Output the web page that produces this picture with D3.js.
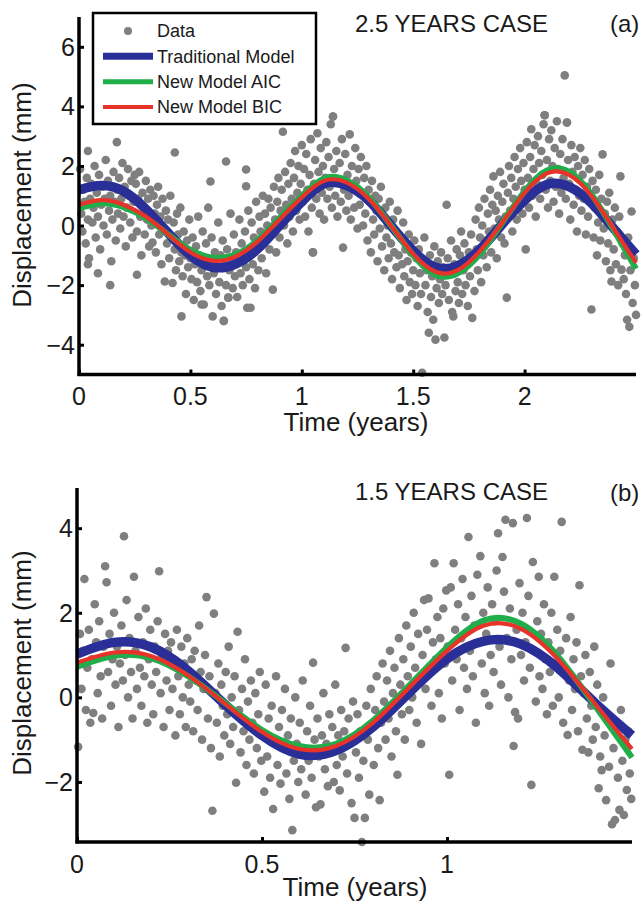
<!DOCTYPE html>
<html><head><meta charset="utf-8">
<script src="https://cdn.jsdelivr.net/npm/d3@7"></script>
<style>body{margin:0;background:#fff}svg{display:block}text{font-family:"Liberation Sans",Arial,Helvetica,sans-serif;fill:#1a1a1a}</style>
</head><body><svg id="c" width="642" height="907"></svg>
<script>
// ---------- DATA ----------
const seriesNames = ["Data", "Traditional Model", "New Model AIC", "New Model BIC"];
const seriesColors = ["#7f7f7f", "#2a2f98", "#1fae4a", "#e8322a"];

// Panel (a): 2.5 years case — model curves sampled every 0.1 year
const tA = [0,0.1,0.2,0.3,0.4,0.5,0.6,0.7,0.8,0.9,1.0,1.1,1.2,1.3,1.4,1.5,1.6,1.7,1.8,1.9,2.0,2.1,2.2,2.3,2.4,2.5];
const tradA = [1.2,1.34,1.15,0.55,-0.25,-1.0,-1.4,-1.3,-0.8,0.0,0.8,1.4,1.35,0.85,0.0,-0.85,-1.4,-1.35,-0.8,0.05,0.85,1.38,1.3,0.75,-0.1,-0.97];
const aicA = [0.58,0.75,0.62,0.25,-0.3,-0.82,-1.08,-0.98,-0.5,0.25,1.0,1.58,1.52,0.95,0.0,-1.0,-1.65,-1.6,-0.95,0.1,1.15,1.85,1.8,1.05,-0.15,-1.45];
const bicA = [0.7,0.85,0.7,0.3,-0.3,-0.9,-1.18,-1.05,-0.55,0.2,0.95,1.5,1.45,0.9,0.0,-0.95,-1.55,-1.5,-0.85,0.1,1.1,1.75,1.7,1.0,-0.1,-1.25];

// Panel (b): 1.5 years case — model curves sampled every 0.1 year
const tB = [0,0.1,0.2,0.3,0.4,0.5,0.6,0.7,0.8,0.9,1.0,1.1,1.2,1.3,1.4,1.5];
const tradB = [1.02,1.3,1.19,0.63,-0.17,-0.9,-1.34,-1.26,-0.7,0.13,0.91,1.33,1.26,0.69,-0.13,-0.9];
const aicB = [0.72,0.98,0.93,0.5,-0.13,-0.77,-1.15,-1.1,-0.55,0.3,1.18,1.82,1.74,0.97,-0.2,-1.42];
const bicB = [0.82,1.06,0.98,0.52,-0.15,-0.82,-1.22,-1.15,-0.6,0.25,1.1,1.7,1.62,0.9,-0.15,-1.22];

// Observations [time (years), displacement (mm)]
const obsA = [
[0.005,1.9],[0.01,0.4],[0.015,-0.2],[0.02,1.2],[0.025,0.8],[0.03,-0.6],[0.035,1.6],[0.04,0.2],[0.045,-1.1],[0.05,0.9],[0.055,1.4],[0.06,0.1],[0.065,0.6],[0.07,2.0],[0.075,-0.4],[0.08,1.1],[0.085,0.3],[0.09,1.7],[0.095,-0.8],[0.1,0.7],[0.105,1.3],[0.11,0.0],[0.115,0.9],[0.12,2.2],[0.125,-0.3],[0.13,1.5],[0.135,0.5],[0.14,1.0],[0.145,-1.2],[0.15,0.2],[0.155,1.8],[0.16,0.8],[0.165,-0.5],[0.17,1.2],[0.175,0.4],[0.18,1.6],[0.185,-0.1],[0.19,0.9],[0.195,2.1],[0.2,0.3],[0.205,1.3],[0.21,-0.7],[0.215,0.6],[0.22,1.9],[0.225,1.0],[0.23,0.1],[0.235,1.5],[0.24,-0.4],[0.245,0.8],[0.25,1.7],
[0.04,2.5],[0.17,2.8],[0.43,2.45],[0.66,2.15],[0.59,1.48],[0.75,1.88],[0.75,1.32],[0.26,-1.65],[0.14,-2.0],[0.085,-1.6],[0.04,-1.3],[0.46,-3.05],[0.65,-3.2],[0.55,-2.65],[0.77,-2.76],[0.67,-2.42],[1.05,-0.9],[1.14,3.66],[2.09,3.7],[2.19,3.46],
[0.255,1.4],[0.26,-0.2],[0.265,0.9],[0.27,1.8],[0.275,0.3],[0.28,-1.0],[0.285,1.1],[0.29,0.6],[0.295,-0.3],[0.3,1.5],[0.305,0.2],[0.31,0.9],[0.315,-0.7],[0.32,1.2],[0.325,0.0],[0.33,-0.57],[0.335,1.0],[0.34,0.4],[0.345,-0.9],[0.35,0.7],[0.355,1.3],[0.36,-0.3],[0.365,0.3],[0.37,-1.3],[0.375,0.9],[0.38,-0.1],[0.385,-1.88],[0.39,0.5],[0.395,-0.6],[0.4,0.2],[0.405,-1.1],[0.41,1.0],[0.415,-0.4],[0.42,-1.93],[0.425,0.1],[0.43,-0.8],[0.435,-1.5],[0.44,0.4],[0.445,-0.3],[0.45,-1.2],[0.455,0.6],[0.46,-0.9],[0.465,-1.7],[0.47,-0.2],[0.475,-1.0],[0.48,-2.3],[0.485,-0.5],[0.49,-1.4],[0.495,0.2],[0.5,-1.1],
[0.505,-1.8],[0.51,-0.4],[0.515,-2.5],[0.52,-1.3],[0.525,-0.7],[0.53,-1.9],[0.535,0.3],[0.54,-1.0],[0.545,-2.2],[0.55,-1.5],[0.555,-0.2],[0.56,-2.65],[0.565,-1.1],[0.57,-0.6],[0.575,-1.7],[0.58,0.6],[0.585,-2.0],[0.59,-1.2],[0.595,-0.4],[0.6,-3.05],[0.605,-1.6],[0.61,-0.9],[0.615,-2.3],[0.62,-1.4],[0.625,0.1],[0.63,-1.9],[0.635,-1.0],[0.64,-2.7],[0.645,-0.5],[0.65,-3.2],[0.655,-1.3],[0.66,-2.0],[0.665,-0.8],[0.67,-2.42],[0.675,-1.5],[0.68,0.4],[0.685,-1.1],[0.69,-2.1],[0.695,-0.3],[0.7,-1.7],[0.705,-0.9],[0.71,-2.4],[0.715,-1.2],[0.72,0.2],[0.725,-1.6],[0.73,-0.6],[0.735,-2.0],[0.74,-1.0],[0.745,-0.2],[0.75,-1.4],
[0.755,-2.76],[0.76,0.5],[0.765,-1.8],[0.77,-0.9],[0.775,0.1],[0.78,-1.3],[0.785,-0.4],[0.79,-2.1],[0.795,0.8],[0.8,-0.7],[0.805,-1.5],[0.81,0.3],[0.815,-0.2],[0.82,-1.1],[0.825,1.0],[0.83,-0.5],[0.835,0.4],[0.84,-1.6],[0.845,0.0],[0.85,0.9],[0.855,-0.8],[0.86,0.6],[0.865,-0.3],[0.87,-2.15],[0.875,1.3],[0.88,0.2],[0.885,-0.9],[0.89,0.8],[0.895,1.6],[0.9,-0.4],[0.905,0.5],[0.91,1.2],[0.915,3.15],[0.92,0.0],[0.925,1.8],[0.93,0.7],[0.935,-0.6],[0.94,1.4],[0.945,0.3],[0.95,2.1],[0.955,0.9],[0.96,-0.2],[0.965,1.6],[0.97,2.5],[0.975,0.5],[0.98,1.1],[0.985,2.0],[0.99,0.2],[0.995,1.4],[1.0,2.7],
[1.005,0.8],[1.01,1.9],[1.015,0.3],[1.02,2.4],[1.025,1.2],[1.03,-0.2],[1.035,1.7],[1.04,2.9],[1.045,0.6],[1.05,-0.9],[1.055,1.4],[1.06,2.2],[1.065,0.9],[1.07,3.1],[1.075,1.8],[1.08,0.4],[1.085,2.6],[1.09,1.1],[1.095,2.0],[1.1,0.2],[1.105,1.6],[1.11,2.8],[1.115,0.9],[1.12,2.3],[1.125,1.3],[1.13,3.4],[1.135,0.6],[1.14,3.66],[1.145,1.9],[1.15,1.0],[1.155,2.5],[1.16,0.3],[1.165,1.5],[1.17,2.1],[1.175,0.8],[1.18,2.9],[1.185,-0.74],[1.19,1.2],[1.195,2.4],[1.2,0.5],[1.205,1.7],[1.21,1.0],[1.215,3.06],[1.22,0.2],[1.225,2.0],[1.23,1.3],[1.235,0.6],[1.24,2.6],[1.245,1.5],[1.25,-0.1],
[1.255,1.9],[1.26,0.7],[1.265,2.3],[1.27,1.1],[1.275,0.0],[1.28,1.6],[1.285,0.4],[1.29,2.0],[1.295,-0.5],[1.3,1.2],[1.305,0.8],[1.31,-0.9],[1.315,1.5],[1.32,0.2],[1.325,-0.3],[1.33,1.0],[1.335,0.5],[1.34,-1.2],[1.345,0.9],[1.35,-0.1],[1.355,1.3],[1.36,-0.7],[1.365,0.3],[1.37,-1.5],[1.375,0.6],[1.38,-0.4],[1.385,0.0],[1.39,-1.1],[1.395,0.8],[1.4,-0.6],[1.405,-1.8],[1.41,0.2],[1.415,-0.9],[1.42,-0.2],[1.425,-1.4],[1.43,0.5],[1.435,-1.0],[1.44,-2.1],[1.445,-0.4],[1.45,-1.3],[1.455,0.1],[1.46,-1.7],[1.465,-0.8],[1.47,-2.5],[1.475,-1.2],[1.48,-0.3],[1.485,-1.9],[1.49,-0.9],[1.495,-2.3],[1.5,-1.5],
[1.505,-0.5],[1.51,-2.0],[1.515,-1.1],[1.52,-2.7],[1.525,-0.8],[1.53,-1.6],[1.535,-2.3],[1.54,-4.94],[1.545,-1.3],[1.55,-0.4],[1.555,-2.0],[1.56,-1.5],[1.565,-2.9],[1.57,-3.6],[1.575,-1.0],[1.58,-2.4],[1.585,-1.7],[1.59,-3.16],[1.595,-0.7],[1.6,-3.83],[1.605,-2.1],[1.61,-1.2],[1.615,-2.6],[1.62,-1.8],[1.625,-0.9],[1.63,-2.3],[1.635,-1.4],[1.64,-3.76],[1.645,-2.0],[1.65,0.7],[1.655,-1.1],[1.66,-2.5],[1.665,-1.6],[1.67,-0.5],[1.675,-2.9],[1.68,-3.05],[1.685,-1.3],[1.69,-2.2],[1.695,-0.8],[1.7,-1.9],[1.705,-2.6],[1.71,-1.0],[1.715,-0.2],[1.72,-2.3],[1.725,-1.5],[1.73,-0.6],[1.735,-2.0],[1.74,-1.2],[1.745,-2.7],[1.75,-0.9],
[1.755,-1.7],[1.76,-0.3],[1.765,-3.1],[1.77,-1.1],[1.775,-2.2],[1.78,0.2],[1.785,-0.8],[1.79,-1.5],[1.795,0.6],[1.8,-0.4],[1.805,-1.9],[1.81,0.0],[1.815,-1.0],[1.82,0.9],[1.825,-0.5],[1.83,-1.4],[1.835,0.4],[1.84,-0.2],[1.845,1.2],[1.85,-0.9],[1.855,0.7],[1.86,1.65],[1.865,-0.1],[1.87,0.5],[1.875,-1.1],[1.88,1.0],[1.885,0.2],[1.89,1.8],[1.895,-0.4],[1.9,0.8],[1.905,1.4],[1.91,-0.6],[1.915,0.3],[1.92,-2.42],[1.925,1.1],[1.93,2.0],[1.935,0.5],[1.94,1.6],[1.945,-0.2],[1.95,0.9],[1.955,2.3],[1.96,1.3],[1.965,0.2],[1.97,1.9],[1.975,0.7],[1.98,2.6],[1.985,1.5],[1.99,0.4],[1.995,2.1],[2.0,1.2],
[2.005,-0.8],[2.01,2.8],[2.015,1.6],[2.02,0.6],[2.025,2.3],[2.03,3.23],[2.035,1.0],[2.04,1.9],[2.045,2.7],[2.05,0.3],[2.055,1.4],[2.06,3.0],[2.065,2.1],[2.07,0.9],[2.075,2.5],[2.08,1.7],[2.085,3.4],[2.09,3.7],[2.095,1.2],[2.1,2.2],[2.105,0.6],[2.11,2.9],[2.115,1.5],[2.12,3.2],[2.125,2.0],[2.13,0.8],[2.135,2.6],[2.14,1.3],[2.145,3.5],[2.15,1.9],[2.155,0.4],[2.16,2.4],[2.165,1.1],[2.17,2.9],[2.175,1.6],[2.18,5.04],[2.185,0.9],[2.19,3.46],[2.195,2.2],[2.2,1.4],[2.205,0.2],[2.21,2.7],[2.215,1.8],[2.22,0.7],[2.225,2.3],[2.23,1.2],[2.235,-0.2],[2.24,2.0],[2.245,1.0],[2.25,2.6],
[2.255,0.5],[2.26,1.7],[2.265,0.9],[2.27,2.2],[2.275,-0.3],[2.28,1.3],[2.285,0.3],[2.29,1.9],[2.295,0.8],[2.3,-2.82],[2.305,1.5],[2.31,-0.4],[2.315,0.6],[2.32,1.2],[2.325,-1.0],[2.33,0.1],[2.335,1.7],[2.34,-0.5],[2.345,0.9],[2.35,2.39],[2.355,-0.1],[2.36,0.4],[2.365,-1.2],[2.37,0.8],[2.375,-0.6],[2.38,1.1],[2.385,-1.5],[2.39,-1.88],[2.395,0.2],[2.4,-0.8],[2.405,0.6],[2.41,-1.3],[2.415,-0.2],[2.42,-2.0],[2.425,0.3],[2.43,1.65],[2.435,-1.48],[2.44,-0.6],[2.445,-1.8],[2.45,-1.0],[2.455,-2.3],[2.46,-3.16],[2.465,-0.4],[2.47,-3.4],[2.475,-1.5],[2.48,0.47],[2.485,-2.6],[2.49,-1.1],[2.495,-2.0],[2.5,-3.0]
];

const obsB = [
[0.003,-1.17],[0.008,1.5],[0.012,0.2],[0.016,1.1],[0.02,2.8],[0.024,-0.3],[0.028,0.7],[0.032,1.6],[0.036,-0.6],[0.04,0.9],[0.044,-0.37],[0.048,2.2],[0.052,1.3],[0.056,0.1],[0.06,1.8],[0.064,0.5],[0.068,-0.5],[0.072,1.2],[0.076,3.1],[0.08,2.72],[0.084,0.6],[0.088,1.5],[0.092,-0.2],[0.096,0.9],[0.1,2.0],[0.104,0.3],[0.108,1.2],[0.112,-0.7],[0.116,0.8],[0.12,1.7],[0.124,0.4],[0.127,3.81],[0.13,1.0],[0.134,2.3],[0.138,0.0],[0.142,1.4],[0.146,0.6],[0.15,-0.5],[0.154,2.85],[0.158,1.1],[0.162,0.2],[0.166,1.9],[0.17,0.7],[0.174,-0.2],[0.178,1.3],[0.182,0.5],[0.186,2.1],[0.19,-0.6],[0.194,0.9],[0.198,1.6],[0.202,0.3],[0.206,-0.4],[0.21,1.2],[0.214,0.6],[0.218,1.8],[0.222,2.98],[0.226,0.1],[0.23,1.0],[0.234,-0.7],[0.238,1.5],[0.242,0.4],[0.246,1.1],[0.25,-0.3],
[0.254,1.3],[0.258,0.2],[0.262,0.9],[0.266,-0.9],[0.27,1.6],[0.274,0.5],[0.278,-0.4],[0.282,1.2],[0.286,0.0],[0.29,0.8],[0.294,-0.7],[0.298,1.4],[0.302,0.3],[0.306,-0.1],[0.31,0.9],[0.314,-0.8],[0.318,1.1],[0.322,0.4],[0.326,-0.3],[0.33,1.7],[0.334,0.6],[0.338,-1.0],[0.342,0.2],[0.346,1.0],[0.35,2.37],[0.354,-0.5],[0.358,0.5],[0.362,-1.2],[0.366,-2.68],[0.37,1.98],[0.374,0.1],[0.378,-0.6],[0.382,0.8],[0.386,-1.4],[0.39,0.3],[0.394,-0.2],[0.398,-0.9],[0.402,0.6],[0.406,-0.4],[0.41,1.2],[0.414,-1.1],[0.418,0.0],[0.422,-0.7],[0.426,0.5],[0.43,-2.02],[0.434,1.55],[0.438,-0.3],[0.442,-1.3],[0.446,0.2],[0.45,-0.8],[0.454,0.9],[0.458,-1.6],[0.462,-0.1],[0.466,-1.0],[0.47,0.4],[0.474,-0.6],[0.478,-1.8],[0.482,0.1],[0.486,-1.2],[0.49,-0.4],[0.494,0.6],[0.498,-1.5],
[0.502,-0.9],[0.506,-2.23],[0.51,0.3],[0.514,-1.4],[0.518,-0.5],[0.522,-1.9],[0.526,-0.2],[0.53,-2.64],[0.534,-1.0],[0.538,0.5],[0.542,-1.6],[0.546,-0.7],[0.55,-2.04],[0.554,-0.3],[0.558,-1.2],[0.562,0.2],[0.566,-1.8],[0.57,-0.9],[0.574,-2.4],[0.578,-0.5],[0.582,-3.14],[0.586,-1.5],[0.59,0.0],[0.594,-1.1],[0.598,-2.0],[0.602,-0.6],[0.606,-1.7],[0.61,0.4],[0.614,-1.3],[0.618,-2.3],[0.622,-0.8],[0.626,-1.5],[0.63,-0.2],[0.634,-1.9],[0.638,0.82],[0.642,-1.0],[0.646,-2.6],[0.65,-0.5],[0.654,-1.4],[0.658,-2.53],[0.662,-0.9],[0.666,0.1],[0.67,-1.7],[0.674,-1.1],[0.678,-2.1],[0.682,-0.4],[0.686,-1.3],[0.69,-0.7],[0.694,-2.0],[0.698,0.3],[0.702,-1.6],[0.706,-0.9],[0.71,-2.2],[0.714,-0.3],[0.718,-1.4],[0.722,-0.8],[0.726,1.17],[0.73,-1.8],[0.734,-0.5],[0.738,-1.1],[0.742,-2.5],[0.746,-0.1],[0.75,-2.85],
[0.754,-1.3],[0.758,-0.4],[0.762,-1.9],[0.766,-0.8],[0.77,-3.42],[0.774,-1.5],[0.778,-2.85],[0.782,-0.2],[0.786,-1.0],[0.79,-2.3],[0.794,0.2],[0.798,-0.7],[0.802,-1.6],[0.806,-0.3],[0.81,0.5],[0.814,-1.2],[0.818,-2.43],[0.822,-0.6],[0.826,0.8],[0.83,-0.1],[0.834,-1.0],[0.838,0.4],[0.842,-0.5],[0.846,1.1],[0.85,-1.4],[0.854,0.1],[0.858,0.7],[0.862,-0.8],[0.866,-1.83],[0.87,1.4],[0.874,0.3],[0.878,-0.4],[0.882,0.9],[0.886,-1.0],[0.89,1.7],[0.894,0.5],[0.898,-0.3],[0.902,1.2],[0.906,0.0],[0.91,2.0],[0.914,0.7],[0.918,-0.6],[0.922,1.5],[0.926,0.4],[0.93,-1.1],[0.934,1.0],[0.938,2.3],[0.942,0.2],[0.946,1.6],[0.95,2.34],[0.954,0.6],[0.958,-0.2],[0.962,1.3],[0.966,3.17],[0.97,0.9],[0.974,1.9],[0.978,0.1],[0.982,1.4],[0.986,-0.5],[0.99,2.1],[0.994,0.8],[0.998,2.53],
[1.002,1.2],[1.006,-1.83],[1.01,2.6],[1.014,0.4],[1.018,3.17],[1.022,1.6],[1.026,0.9],[1.03,2.2],[1.034,-0.3],[1.038,1.4],[1.042,2.8],[1.046,0.7],[1.05,1.9],[1.054,0.2],[1.058,3.79],[1.062,1.1],[1.066,2.4],[1.07,0.5],[1.074,1.7],[1.078,-0.6],[1.082,2.9],[1.086,1.3],[1.09,3.34],[1.094,0.8],[1.098,2.0],[1.102,0.1],[1.106,1.5],[1.11,2.6],[1.114,-0.2],[1.118,1.0],[1.122,2.2],[1.126,0.6],[1.13,1.8],[1.134,3.0],[1.138,3.88],[1.142,1.2],[1.146,0.3],[1.15,3.32],[1.154,2.5],[1.158,4.2],[1.162,1.4],[1.166,0.0],[1.17,2.1],[1.174,0.9],[1.178,4.12],[1.18,-1.15],[1.184,-0.35],[1.188,1.6],[1.192,-0.5],[1.196,2.7],[1.2,1.0],[1.204,2.0],[1.208,0.4],[1.212,1.3],[1.216,4.24],[1.22,2.4],[1.224,0.7],[1.228,-2.07],[1.232,3.2],[1.236,1.1],[1.24,-0.1],[1.244,1.8],[1.248,2.85],[1.25,0.5],
[1.254,1.5],[1.258,0.2],[1.262,2.2],[1.266,0.9],[1.27,-0.4],[1.274,1.3],[1.278,0.6],[1.282,2.0],[1.286,-0.2],[1.29,2.85],[1.294,0.8],[1.298,1.6],[1.302,0.0],[1.306,1.1],[1.31,4.15],[1.314,-0.6],[1.318,0.7],[1.322,1.4],[1.326,-0.89],[1.33,0.4],[1.334,1.9],[1.338,-0.3],[1.342,0.9],[1.346,0.2],[1.35,1.3],[1.354,-0.8],[1.358,2.65],[1.362,0.5],[1.366,-1.24],[1.37,0.1],[1.374,1.0],[1.378,-0.5],[1.382,-1.3],[1.386,0.6],[1.39,-0.2],[1.394,-1.0],[1.398,1.2],[1.402,-0.7],[1.406,0.3],[1.41,-2.15],[1.414,-1.4],[1.418,-1.72],[1.422,0.0],[1.426,-0.9],[1.43,-2.43],[1.434,-0.4],[1.438,-1.64],[1.442,0.8],[1.446,-3.0],[1.45,-1.2],[1.454,-2.9],[1.458,-0.6],[1.462,-1.9],[1.466,-2.66],[1.47,-0.3],[1.474,-1.5],[1.478,-2.78],[1.482,-1.0],[1.486,-2.19],[1.49,-0.8],[1.494,-1.8],[1.498,-2.4]
];

const yTicksA = [-4,-2,0,2,4,6];
const xTicksA = [0,0.5,1,1.5,2];
const yTicksB = [-2,0,2,4];
const xTicksB = [0,0.5,1];
const titleA = "2.5 YEARS CASE", titleB = "1.5 YEARS CASE";
const xLabel = "Time (years)", yLabel = "Displacement (mm)";

// ---------- DRAW ----------
const svg = d3.select("#c");
const lineWidths = [0, 9.5, 6, 4.2];
const dotR = 4.3;

function panel(o) {
  const x = d3.scaleLinear().domain(o.xDom).range([o.left, o.right]);
  const y = d3.scaleLinear().domain(o.yDom).range([o.bottom, o.top]);
  const g = svg.append("g");
  // data points
  g.append("g").selectAll("circle").data(o.obs).join("circle")
    .attr("cx", d => x(d[0])).attr("cy", d => y(d[1])).attr("r", dotR)
    .attr("fill", seriesColors[0]);
  // model curves
  const line = d3.line().x(d => x(d[0])).y(d => y(d[1])).curve(d3.curveNatural);
  [o.trad, o.aic, o.bic].forEach((vals, i) => {
    g.append("path").datum(o.t.map((t, j) => [t, vals[j]]))
      .attr("d", line).attr("fill", "none")
      .attr("stroke", seriesColors[i + 1]).attr("stroke-width", lineWidths[i + 1])
      .attr("stroke-linecap", "butt");
  });
  // axes
  const fmt = d => (d < 0 ? "\u2212" + Math.abs(d) : String(d));
  const ya = g.append("g").attr("transform", `translate(${o.left},0)`)
    .call(d3.axisRight(y).tickValues(o.yTicks).tickSize(5).tickFormat(""));
  const xa = g.append("g").attr("transform", `translate(0,${o.bottom})`)
    .call(d3.axisTop(x).tickValues(o.xTicks).tickSize(5).tickFormat(""));
  [ya, xa].forEach(a => {
    a.select(".domain").remove();
    a.selectAll(".tick line").attr("stroke", "#000").attr("stroke-width", 3);
  });
  g.append("line").attr("x1", o.left).attr("x2", o.left).attr("y1", o.top).attr("y2", o.bottom + 1.5)
    .attr("stroke", "#000").attr("stroke-width", 3.5);
  g.append("line").attr("x1", o.left - 1.5).attr("x2", o.right).attr("y1", o.bottom).attr("y2", o.bottom)
    .attr("stroke", "#000").attr("stroke-width", 3.5);
  // tick labels
  g.selectAll(".yl").data(o.yTicks).join("text")
    .attr("x", o.left - 4).attr("y", d => y(d)).attr("dy", "0.36em")
    .attr("text-anchor", "end").attr("font-size", 25).text(fmt);
  g.selectAll(".xl").data(o.xTicks).join("text")
    .attr("x", d => x(d)).attr("y", o.bottom + o.xTickDy)
    .attr("text-anchor", "middle").attr("font-size", 25).text(fmt);
  // axis labels
  g.append("text").attr("x", o.xLabelX).attr("y", o.xLabelY).attr("text-anchor", "middle")
    .attr("font-size", 26).text(xLabel);
  g.append("text").attr("transform", `translate(31,${o.yLabelY}) rotate(-90)`)
    .attr("text-anchor", "middle").attr("font-size", 26).text(yLabel);
  // titles
  g.append("text").attr("x", 355).attr("y", o.titleY).attr("font-size", 24).text(o.title);
  g.append("text").attr("x", 610).attr("y", o.tagY).attr("font-size", 24).text(o.tag);
  return g;
}

panel({xDom: [0, 2.5], yDom: [-5, 7], left: 79, right: 636, top: 17, bottom: 374.5,
  obs: obsA, t: tA, trad: tradA, aic: aicA, bic: bicA, yTicks: yTicksA, xTicks: xTicksA,
  xTickDy: 30, xLabelX: 356, xLabelY: 431, yLabelY: 195, title: titleA, titleY: 32, tag: "(a)", tagY: 32});

panel({xDom: [0, 1.5], yDom: [-3.42, 4.95], left: 77, right: 632, top: 488, bottom: 842,
  obs: obsB, t: tB, trad: tradB, aic: aicB, bic: bicB, yTicks: yTicksB, xTicks: xTicksB,
  xTickDy: 31, xLabelX: 355, xLabelY: 896, yLabelY: 663, title: titleB, titleY: 500, tag: "(b)", tagY: 501});

// legend (panel a)
const lg = svg.append("g");
lg.append("rect").attr("x", 93).attr("y", 13).attr("width", 223).attr("height", 111)
  .attr("fill", "#fff").attr("stroke", "#000").attr("stroke-width", 2.5);
const rowY = d3.scalePoint().domain(seriesNames).range([31, 107]);
seriesNames.forEach((name, i) => {
  const yy = rowY(name);
  if (i === 0) {
    lg.append("circle").attr("cx", 128).attr("cy", yy).attr("r", 4).attr("fill", seriesColors[0]);
  } else {
    lg.append("line").attr("x1", 103).attr("x2", 153).attr("y1", yy).attr("y2", yy)
      .attr("stroke", seriesColors[i]).attr("stroke-width", [0, 7, 5, 4][i]);
  }
  lg.append("text").attr("x", 157).attr("y", yy).attr("dy", "0.36em").attr("font-size", 18).text(name);
});
</script></body></html>
